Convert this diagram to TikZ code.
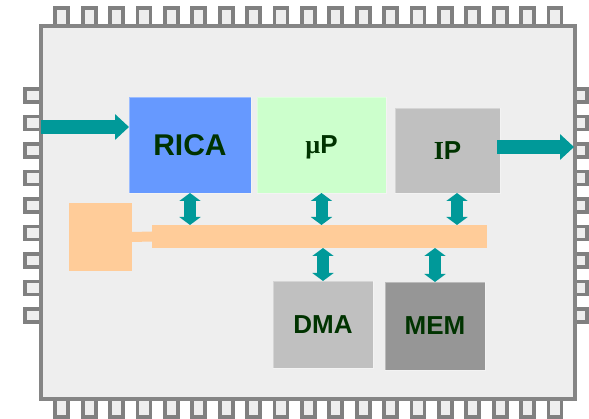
\documentclass[tikz,border=0pt]{standalone}
\usepackage{fontspec}
\setmainfont{Liberation Sans}
\newfontfamily\serifbold{Liberation Serif}
\usetikzlibrary{arrows.meta}
\definecolor{chipfill}{HTML}{EEEEEE}
\definecolor{chipline}{HTML}{858585}
\definecolor{pinline}{HTML}{808080}
\definecolor{ricablue}{HTML}{6699FF}
\definecolor{upgreen}{HTML}{CCFFCC}
\definecolor{lgray}{HTML}{C0C0C0}
\definecolor{dgray}{HTML}{969696}
\definecolor{busorange}{HTML}{FFCC99}
\definecolor{teal2}{HTML}{009999}
\definecolor{txtgreen}{HTML}{003300}
\tikzset{
  pin/.style={draw=pinline, fill=chipfill, line width=3.8pt},
  block/.style={inner sep=0pt, outer sep=0pt, text depth=0pt, draw opacity=0.35, draw=white, line width=0.8pt},
  busbox/.style={fill=busorange, inner sep=0pt, outer sep=0pt},
  vlink/.style={draw=teal2, line width=12pt, {Triangle[width=21pt,length=8pt]}-{Triangle[width=21pt,length=8pt]}},
  hlink/.style={draw=teal2, line width=14pt, -{Triangle[width=25pt,length=14pt]}}
}
\begin{document}
\begin{tikzpicture}[x=1pt, y=-1pt]
\useasboundingbox (0,0) rectangle (589,419);
% pins along the top and bottom edges
\foreach \k in {0,...,18}{
  \pgfmathsetmacro{\cx}{61.7+27.4*\k}
  \draw[pin] (\cx-6.5,8) rectangle (\cx+6.5,26);
  \draw[pin] (\cx-6.5,399) rectangle (\cx+6.5,417);
}
% pins along the left and right edges
\foreach \k in {0,...,8}{
  \pgfmathsetmacro{\cy}{95.5+27.5*\k}
  \draw[pin] (25,\cy-6.5) rectangle (41,\cy+6.5);
  \draw[pin] (575,\cy-6.5) rectangle (587,\cy+6.5);
}
% chip body
\draw[fill=chipfill, draw=chipline, line width=3.8pt] (41,26) rectangle (575,399);

% functional blocks
\node[block, fill=ricablue, minimum width=122pt, minimum height=96pt, font=\bfseries\color{txtgreen}\fontsize{30}{30}\selectfont] (rica) at (190,145) {RICA};
\node[block, fill=upgreen, minimum width=129pt, minimum height=96pt, font=\bfseries\color{txtgreen}\fontsize{26}{26}\selectfont] (up) at (321.5,145) {{\serifbold µ}P};
\node[block, fill=lgray, minimum width=105pt, minimum height=85pt, font=\bfseries\color{txtgreen}\fontsize{26}{26}\selectfont] (ip) at (447.5,150.5) {{\serifbold I}P};
\node[block, fill=lgray, minimum width=100pt, minimum height=87pt, font=\bfseries\color{txtgreen}\fontsize{26}{26}\selectfont] (dma) at (323,324.5) {DMA};
\node[block, fill=dgray, minimum width=100pt, minimum height=88pt, font=\bfseries\color{txtgreen}\fontsize{26}{26}\selectfont] (mem) at (435,326) {MEM};

% system bus and its bridge block
\node[busbox, minimum width=335pt, minimum height=23pt] (bus) at (319.5,236.5) {};
\node[busbox, minimum width=63pt, minimum height=68pt] (bridge) at (100.5,237) {};
\draw[busorange, line width=10pt] (bridge.east) -- (bus.west);

% bus connections
\draw[vlink] (rica.south) -- (rica.south |- bus.north);
\draw[vlink] (up.south) -- (up.south |- bus.north);
\draw[vlink] ([xshift=9.5pt]ip.south) -- ([xshift=9.5pt]ip.south |- bus.north);
\draw[vlink] (bus.south -| dma.north) -- (dma.north);
\draw[vlink] (bus.south -| mem.north) -- (mem.north);

% data in / data out
\coordinate (din) at (41,127);
\coordinate (dout) at (574,147);
\draw[hlink] (din) -- (din -| rica.west);
\draw[hlink] ([xshift=-3pt]dout -| ip.east) -- (dout);
\end{tikzpicture}
\end{document}
